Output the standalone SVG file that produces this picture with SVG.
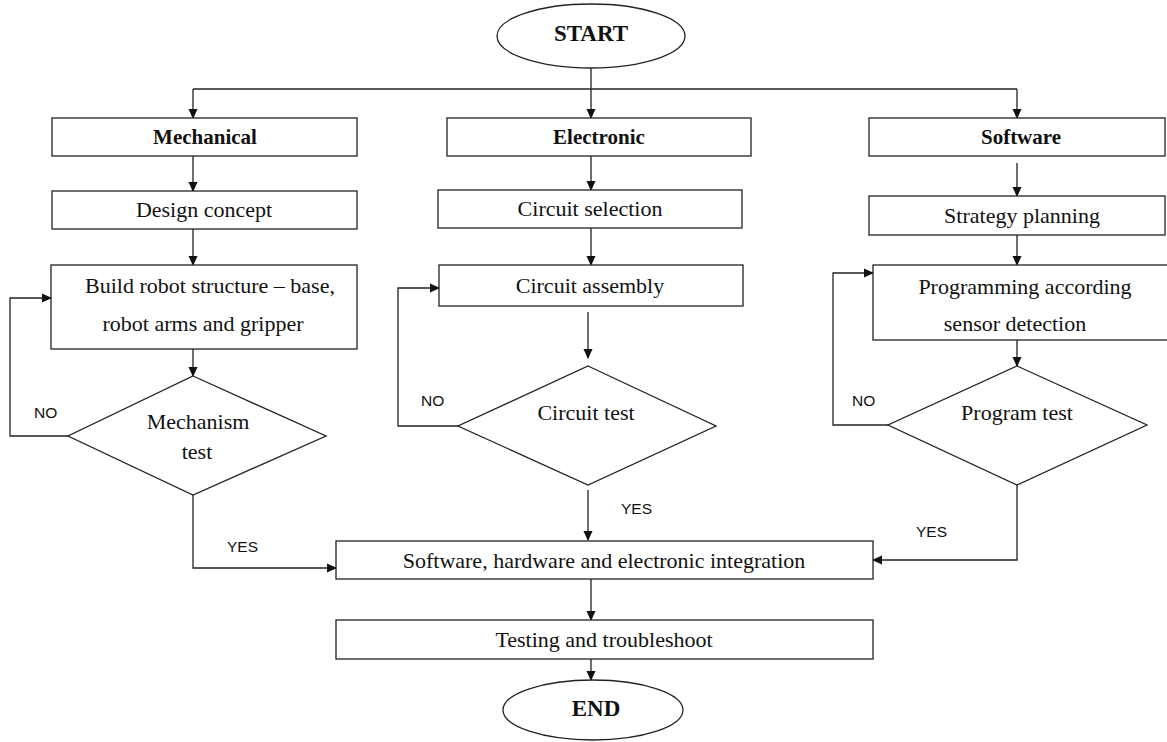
<svg xmlns="http://www.w3.org/2000/svg" width="1167" height="742" viewBox="0 0 1167 742">
<style>
.box{fill:#fff;stroke:#222;stroke-width:1.3}
.t{font-family:"Liberation Serif","Times New Roman",serif;font-size:22px;fill:#111;text-anchor:middle}
.b{font-weight:bold;font-size:21px}
.se{font-weight:bold;font-size:23px}
.lbl{font-family:"Liberation Sans",Arial,sans-serif;font-size:15.5px;fill:#111}
.c{fill:none;stroke:#222;stroke-width:1.3}
</style>
<defs>
<marker id="ah" markerWidth="10" markerHeight="10" refX="9" refY="5" orient="auto" markerUnits="userSpaceOnUse">
<path d="M0,0.5 L10,5 L0,9.5 Z" fill="#111"/>
</marker>
</defs>
<rect width="1167" height="742" fill="#fff"/>
<g id="connectors">
<path class="c" d="M591,68 V118" marker-end="url(#ah)"/>
<path class="c" d="M193,89 H1017"/>
<path class="c" d="M193,89 V118" marker-end="url(#ah)"/>
<path class="c" d="M1017,89 V118" marker-end="url(#ah)"/>
<path class="c" d="M193,156 V191" marker-end="url(#ah)"/>
<path class="c" d="M193,229 V265" marker-end="url(#ah)"/>
<path class="c" d="M193,349 V376" marker-end="url(#ah)"/>
<path class="c" d="M68,436 H10 V298 H51" marker-end="url(#ah)"/>
<path class="c" d="M193,495 V568 H336" marker-end="url(#ah)"/>
<path class="c" d="M591,156 V190" marker-end="url(#ah)"/>
<path class="c" d="M591,228 V265" marker-end="url(#ah)"/>
<path class="c" d="M588,312 V358" marker-end="url(#ah)"/>
<path class="c" d="M458,426 H398 V288 H439" marker-end="url(#ah)"/>
<path class="c" d="M588,490 V540" marker-end="url(#ah)"/>
<path class="c" d="M1017,163 V196" marker-end="url(#ah)"/>
<path class="c" d="M1017,235 V265" marker-end="url(#ah)"/>
<path class="c" d="M1017,340 V366" marker-end="url(#ah)"/>
<path class="c" d="M888,425 H833 V273 H873" marker-end="url(#ah)"/>
<path class="c" d="M1017,485 V560 H873" marker-end="url(#ah)"/>
<path class="c" d="M591,579 V620" marker-end="url(#ah)"/>
<path class="c" d="M591,659 V680" marker-end="url(#ah)"/>
<text class="lbl" x="34" y="418">NO</text>
<text class="lbl" x="227" y="552">YES</text>
<text class="lbl" x="421" y="406">NO</text>
<text class="lbl" x="621" y="514">YES</text>
<text class="lbl" x="852" y="406">NO</text>
<text class="lbl" x="916" y="537">YES</text>
</g>
<g id="start">
<ellipse class="box" cx="591" cy="36" rx="94" ry="32"/>
<text class="t se" x="591" y="41">START</text>
</g>
<g id="mechanical">
<rect class="box" x="52" y="118" width="305" height="38"/>
<text class="t b" x="205" y="144">Mechanical</text>
</g>
<g id="electronic">
<rect class="box" x="447" y="118" width="304" height="38"/>
<text class="t b" x="599" y="144">Electronic</text>
</g>
<g id="software">
<rect class="box" x="869" y="118" width="296" height="38"/>
<text class="t b" x="1021" y="144">Software</text>
</g>
<g id="design">
<rect class="box" x="52" y="191" width="305" height="38"/>
<text class="t" x="204" y="217">Design concept</text>
</g>
<g id="circuit-selection">
<rect class="box" x="438" y="190" width="304" height="38"/>
<text class="t" x="590" y="216">Circuit selection</text>
</g>
<g id="strategy">
<rect class="box" x="869" y="196" width="296" height="39"/>
<text class="t" x="1022" y="223">Strategy planning</text>
</g>
<g id="build">
<rect class="box" x="51" y="265" width="306" height="84"/>
<text class="t" x="210" y="293">Build robot structure – base,</text>
<text class="t" x="203" y="331">robot arms and gripper</text>
</g>
<g id="circuit-assembly">
<rect class="box" x="439" y="265" width="304" height="41"/>
<text class="t" x="590" y="293">Circuit assembly</text>
</g>
<g id="programming">
<rect class="box" x="873" y="265" width="296" height="75"/>
<text class="t" x="1025" y="294">Programming according</text>
<text class="t" x="1015" y="331">sensor detection</text>
</g>
<g id="mechanism-test">
<polygon class="box" points="193,376 326,436 193,495 68,436"/>
<text class="t" x="198" y="429">Mechanism</text>
<text class="t" x="197" y="459">test</text>
</g>
<g id="circuit-test">
<polygon class="box" points="588,366 716,426 588,485 458,426"/>
<text class="t" x="586" y="420">Circuit test</text>
</g>
<g id="program-test">
<polygon class="box" points="1017,366 1147,425 1017,485 888,425"/>
<text class="t" x="1017" y="420">Program test</text>
</g>
<g id="integration">
<rect class="box" x="336" y="541" width="537" height="38"/>
<text class="t" x="604" y="568">Software, hardware and electronic integration</text>
</g>
<g id="testing">
<rect class="box" x="336" y="620" width="537" height="39"/>
<text class="t" x="604" y="647">Testing and troubleshoot</text>
</g>
<g id="end">
<ellipse class="box" cx="593" cy="710" rx="90" ry="30"/>
<text class="t se" x="596" y="716">END</text>
</g>
</svg>
